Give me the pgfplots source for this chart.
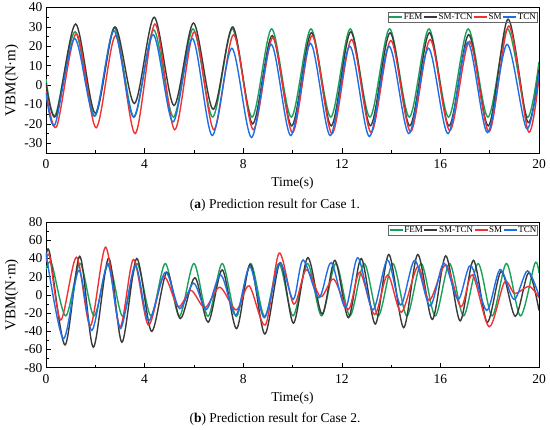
\documentclass[border=0pt]{standalone}
\usepackage{pgfplots}
\pgfplotsset{compat=1.18}
\usepackage{fontspec}
\setmainfont{Liberation Serif}
\definecolor{cFEM}{HTML}{1AA05A}
\definecolor{cSMTCN}{HTML}{3A3A3A}
\definecolor{cSM}{HTML}{F03232}
\definecolor{cTCN}{HTML}{1E6FE6}
\pgfplotsset{
  myaxis/.style={
    scale only axis, width=493pt, height=145.5pt,
    xmin=0, xmax=20, xtick={0,4,...,20}, minor x tick num=1,
    minor y tick num=1,
    tick align=inside, tick pos=left,
    major tick length=5pt, minor tick length=3pt,
    every tick/.style={black, line width=0.6pt},
    axis line style={line width=0.8pt},
    /pgf/number format/assume math mode=true,
    tick label style={font=\fontsize{13.5}{13.5}\selectfont},
    xticklabel style={yshift=-3pt},
    xlabel style={font=\fontsize{13.5}{14}\selectfont, yshift=-2pt},
    ylabel style={font=\fontsize{15}{15}\selectfont, yshift=-1pt},
    xlabel={Time(s)}, ylabel={VBM(N·m)},
    legend columns=4,
    legend style={anchor=north east, draw=black!60, fill=none, line width=0.6pt, inner sep=0.5pt, font=\fontsize{9}{10}\selectfont, /tikz/every even column/.append style={column sep=0pt}, nodes={inner sep=0.8pt}},
    legend image code/.code={\draw[#1, line width=1.6pt] (0pt,0pt) -- (13pt,0pt);},
    every axis plot/.append style={line width=1.4pt, smooth, no marks},
  }
}
\begin{document}
\begin{tikzpicture}
\path[use as bounding box] (0,0) rectangle (550pt,430pt);
\begin{axis}[myaxis, at={(46pt,277pt)}, anchor=south west, ymin=-35, ymax=40, ytick={-30,-20,...,40}, legend style={at={(rel axis cs:0.997,0.9715)}}]
\addplot[cFEM] coordinates {(0,3) (0.38,-15.5) (1.18,27.5) (1.98,-16) (2.775,29.5) (3.57,-16.5) (4.37,28.5) (5.17,-16.5) (5.965,29) (6.76,-16.5) (7.56,29) (8.36,-16.5) (9.155,29) (9.95,-16.5) (10.75,29) (11.55,-16.5) (12.345,29) (13.14,-16.5) (13.94,29) (14.74,-16.5) (15.535,29) (16.33,-16.5) (17.13,29) (17.93,-16.5) (18.725,29) (19.52,-16.5) (20,12)};
\addlegendentry{FEM}
\addplot[cSMTCN] coordinates {(0,1) (0.40,-16) (1.20,31.5) (2.00,-14.5) (2.795,30) (3.59,-9.5) (4.39,35) (5.19,-10.5) (5.985,32) (6.78,-12.5) (7.58,30) (8.38,-20) (9.175,25.5) (9.97,-21) (10.77,27) (11.57,-21) (12.365,27.5) (13.16,-21) (13.96,27) (14.76,-21) (15.555,27) (16.35,-21) (17.15,26) (17.95,-21) (18.745,34) (19.54,-19) (20,8)};
\addlegendentry{SM-TCN}
\addplot[cSM] coordinates {(0,-3) (0.43,-21.5) (1.23,26.5) (2.03,-22) (2.825,25.5) (3.62,-25) (4.42,31.5) (5.22,-23) (6.015,27.5) (6.81,-23) (7.61,26) (8.41,-23) (9.205,24.5) (10.00,-24.5) (10.80,25.5) (11.60,-25) (12.395,23.5) (13.19,-24.5) (13.99,23) (14.79,-24) (15.585,23.5) (16.38,-23.5) (17.18,22.5) (17.98,-24) (18.775,30.5) (19.57,-24) (20,4)};
\addlegendentry{SM}
\addplot[cTCN] coordinates {(0,-4) (0.36,-20.5) (1.16,24) (1.96,-16) (2.755,28) (3.55,-16.5) (4.35,26) (5.15,-19) (5.945,24) (6.74,-26) (7.54,19) (8.34,-27) (9.135,21) (9.93,-26) (10.73,21.5) (11.53,-26) (12.325,20) (13.12,-26.5) (13.92,20) (14.72,-25) (15.515,19) (16.31,-25) (17.11,22) (17.91,-24.5) (18.705,21) (19.50,-22.5) (20,6)};
\addlegendentry{TCN}
\end{axis}
\begin{axis}[myaxis, at={(46pt,62.3pt)}, anchor=south west, ymin=-80, ymax=80, ytick={-80,-60,...,80}, legend style={at={(rel axis cs:0.998,0.982)}}]
\addplot[cFEM] coordinates {(0,28) (0.23,34.5) (0.80,-23) (1.38,34.5) (1.95,-23) (2.54,34.5) (3.11,-23.5) (3.69,34.5) (4.26,-23) (4.84,34.5) (5.41,-23.5) (6.0,34.5) (6.57,-23.5) (7.15,34.5) (7.72,-23.5) (8.30,34.5) (8.87,-23.5) (9.45,34.5) (10.02,-23) (10.61,34.5) (11.18,-23) (11.76,34.5) (12.33,-23) (12.91,34.5) (13.48,-23) (14.07,34.5) (14.64,-23) (15.22,34.5) (15.79,-23) (16.37,34.5) (16.94,-23) (17.53,34.5) (18.10,-23) (18.68,34.5) (19.25,-23) (19.83,34.5) (20,24)};
\addlegendentry{FEM}
\addplot[cSMTCN] coordinates {(0,40) (0.15,46) (0.77,-55) (1.37,42.5) (1.92,-57.5) (2.54,40.5) (3.08,-52) (3.68,40) (4.28,-40) (4.9,25) (5.45,-26) (6.04,19) (6.58,-30) (7.15,27.5) (7.73,-37) (8.29,33.5) (8.88,-43) (9.5,35.5) (10.04,-31) (10.62,41) (11.2,-21) (11.72,38) (12.27,-25) (12.79,40) (13.36,-32) (13.91,44.5) (14.51,-36) (15.08,44.5) (15.67,-27) (16.22,43) (16.8,-28.5) (17.34,38) (17.9,-30) (18.47,26) (19.04,-23.5) (19.58,24.5) (20,-17)};
\addlegendentry{SM-TCN}
\addplot[cSM] coordinates {(0,36) (0.15,42) (0.6,-27.5) (1.24,41.5) (1.8,-34) (2.42,52.5) (3.0,-35) (3.55,39) (4.15,-33) (4.77,20) (5.36,-13) (5.88,5) (6.45,-14) (7.05,8.5) (7.72,-16.5) (8.24,10) (8.9,-33) (9.46,46) (10.05,-10) (10.56,28) (11.14,-2) (11.67,17.5) (12.27,-16) (12.73,25) (13.33,-21.5) (13.86,22) (14.42,-19) (15.08,31) (15.55,-6) (16.22,33) (16.83,-13) (17.3,22) (17.98,-35) (18.6,14) (19.02,1.5) (19.6,9.5) (20,-3)};
\addlegendentry{SM}
\addplot[cTCN] coordinates {(0,46) (0.7,-48) (1.33,27) (1.86,-39) (2.5,33.5) (3.02,-37) (3.62,32.5) (4.16,-28.5) (4.84,25) (5.42,-15) (5.99,13) (6.51,-16) (7.09,22) (7.7,-22.5) (8.27,31) (8.86,-25) (9.48,35) (10.03,-5) (10.43,38.5) (11.07,-3) (11.57,35.5) (12.15,-14) (12.65,41) (13.26,-16.5) (13.85,38.5) (14.39,-11) (14.96,38) (15.58,-12) (16.14,35) (16.72,-5) (17.23,32.5) (17.88,-17) (18.42,28) (18.99,-5) (19.53,26.5) (20,-1)};
\addlegendentry{TCN}
\end{axis}
\node[font=\fontsize{13.5}{13.5}\selectfont] at (275pt,225pt) {(\textbf{a}) Prediction result for Case 1.};
\node[font=\fontsize{13.5}{13.5}\selectfont] at (275pt,10.7pt) {(\textbf{b}) Prediction result for Case 2.};
\end{tikzpicture}
\end{document}
